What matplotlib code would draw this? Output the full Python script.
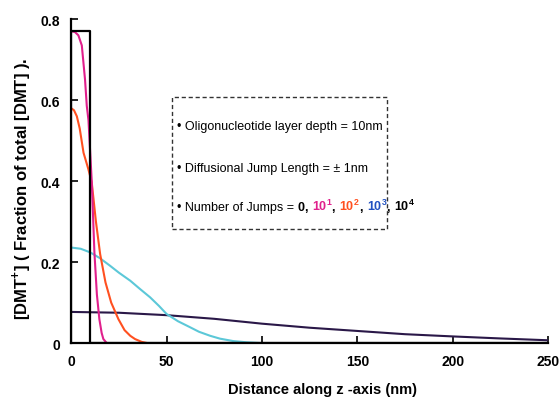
import matplotlib
matplotlib.use("Agg")
import matplotlib.pyplot as plt
from matplotlib.patches import Rectangle

plt.rcParams['font.family'] = ['Liberation Sans', 'DejaVu Sans']
plt.rcParams['mathtext.fontset'] = 'custom'
plt.rcParams['mathtext.rm'] = 'Liberation Sans:bold'
plt.rcParams['mathtext.bf'] = 'Liberation Sans:bold'

# Data
box_x = [0, 0, 10, 10, 250]
box_y = [0, 0.77, 0.77, 0, 0]

j1_x = [0, 2, 3.8, 5.6, 7.3, 8.2, 9.1, 10.8, 12.2, 13.5, 14.8, 16.0, 16.9, 18.7, 250]
j1_y = [0.77, 0.768, 0.76, 0.735, 0.65, 0.586, 0.55, 0.40, 0.224, 0.12, 0.059, 0.025, 0.01, 0.0, 0.0]

j2_x = [0, 1.5, 3, 4.5, 6.5, 9, 10.8, 13, 15.2, 18, 21, 24.8, 28, 31, 33.5, 37, 40, 250]
j2_y = [0.58, 0.575, 0.56, 0.53, 0.47, 0.43, 0.397, 0.30, 0.22, 0.15, 0.10, 0.059, 0.032, 0.018, 0.01, 0.003, 0.0, 0.0]

j3_x = [0, 5, 10, 15, 20.4, 25, 31, 36, 41.4, 46, 50, 56, 62.4, 67, 72.9, 78, 85, 92, 100, 250]
j3_y = [0.236, 0.233, 0.224, 0.210, 0.191, 0.174, 0.154, 0.134, 0.113, 0.092, 0.072, 0.054, 0.039, 0.028, 0.018, 0.011, 0.005, 0.002, 0.0, 0.0]

j4_x = [0, 25, 50, 75, 100, 125, 150, 175, 200, 225, 250]
j4_y = [0.077, 0.075, 0.069, 0.060, 0.048, 0.038, 0.030, 0.022, 0.0165, 0.0115, 0.007]

x_ticks = [0, 50, 100, 150, 200, 250]
y_ticks = [0, 0.2, 0.4, 0.6, 0.8]
y_tick_labels = ['0', '0.2', '0.4', '0.6', '0.8']

c_mag = '#e0208c'
c_org = '#ff5020'
c_cyan = '#5cc8d8'
c_pur = '#2a1848'
c_blue = '#2050c0'

fig = plt.figure(figsize=(5.6, 4.02), dpi=100)
ax = fig.add_axes([0.127, 0.144, 0.852, 0.806])

ax.plot(j4_x, j4_y, color=c_pur, lw=1.5)
ax.plot(j3_x, j3_y, color=c_cyan, lw=1.5)
ax.plot(j2_x, j2_y, color=c_org, lw=1.5)
ax.plot(j1_x, j1_y, color=c_mag, lw=1.5)
ax.plot(box_x, box_y, color='black', lw=1.6)

ax.set_xlim(0, 250)
ax.set_ylim(0, 0.8)
ax.set_xticks(x_ticks)
ax.set_xticklabels([str(v) for v in x_ticks])
ax.set_yticks(y_ticks)
ax.set_yticklabels(y_tick_labels)
for s in ['top', 'right']:
    ax.spines[s].set_visible(False)
for s in ['left', 'bottom']:
    ax.spines[s].set_linewidth(1.6)
ax.tick_params(direction='in', length=5, width=1.2, labelsize=10, pad=8)
for lab in ax.get_xticklabels() + ax.get_yticklabels():
    lab.set_fontweight('bold')

ax.set_xlabel('Distance along z -axis (nm)', fontsize=10.5, fontweight='bold')
ax.xaxis.set_label_coords(0.526, -0.12)
ax.set_ylabel('[DMT$^{+}$] ( Fraction of total [DMT] ).', fontsize=12, fontweight='bold')
ax.yaxis.set_label_coords(-0.08, 0.48)

# Dashed annotation box
rect = Rectangle((53, 0.281), 112.5, 0.326, fill=False, ls=(0, (3, 2)), lw=1.0,
                 edgecolor='#333333', transform=ax.transData)
ax.add_patch(rect)

fs = 9
ax.text(55.5, 0.536, '\u2022 Oligonucleotide layer depth = 10nm', fontsize=fs, va='center')
ax.text(55.5, 0.432, '\u2022 Diffusional Jump Length = \u00b1 1nm', fontsize=fs, va='center')
t = ax.text(55.5, 0.336, '\u2022 Number of Jumps = ', fontsize=fs, va='center')
pieces = [('0', 'black'), (', ', 'black'), (r'10$^{1}$', c_mag), (', ', 'black'),
          (r'10$^{2}$', c_org), (', ', 'black'), (r'10$^{3}$', c_blue), (', ', 'black'),
          (r'10$^{4}$', 'black')]
prev = t
for s, c in pieces:
    prev = ax.annotate(s, xy=(1, 0), xycoords=prev, xytext=(0, 0), textcoords='offset points',
                       fontsize=fs, color=c, fontweight='bold', va='bottom', ha='left')

fig.savefig('out.png', dpi=100)
